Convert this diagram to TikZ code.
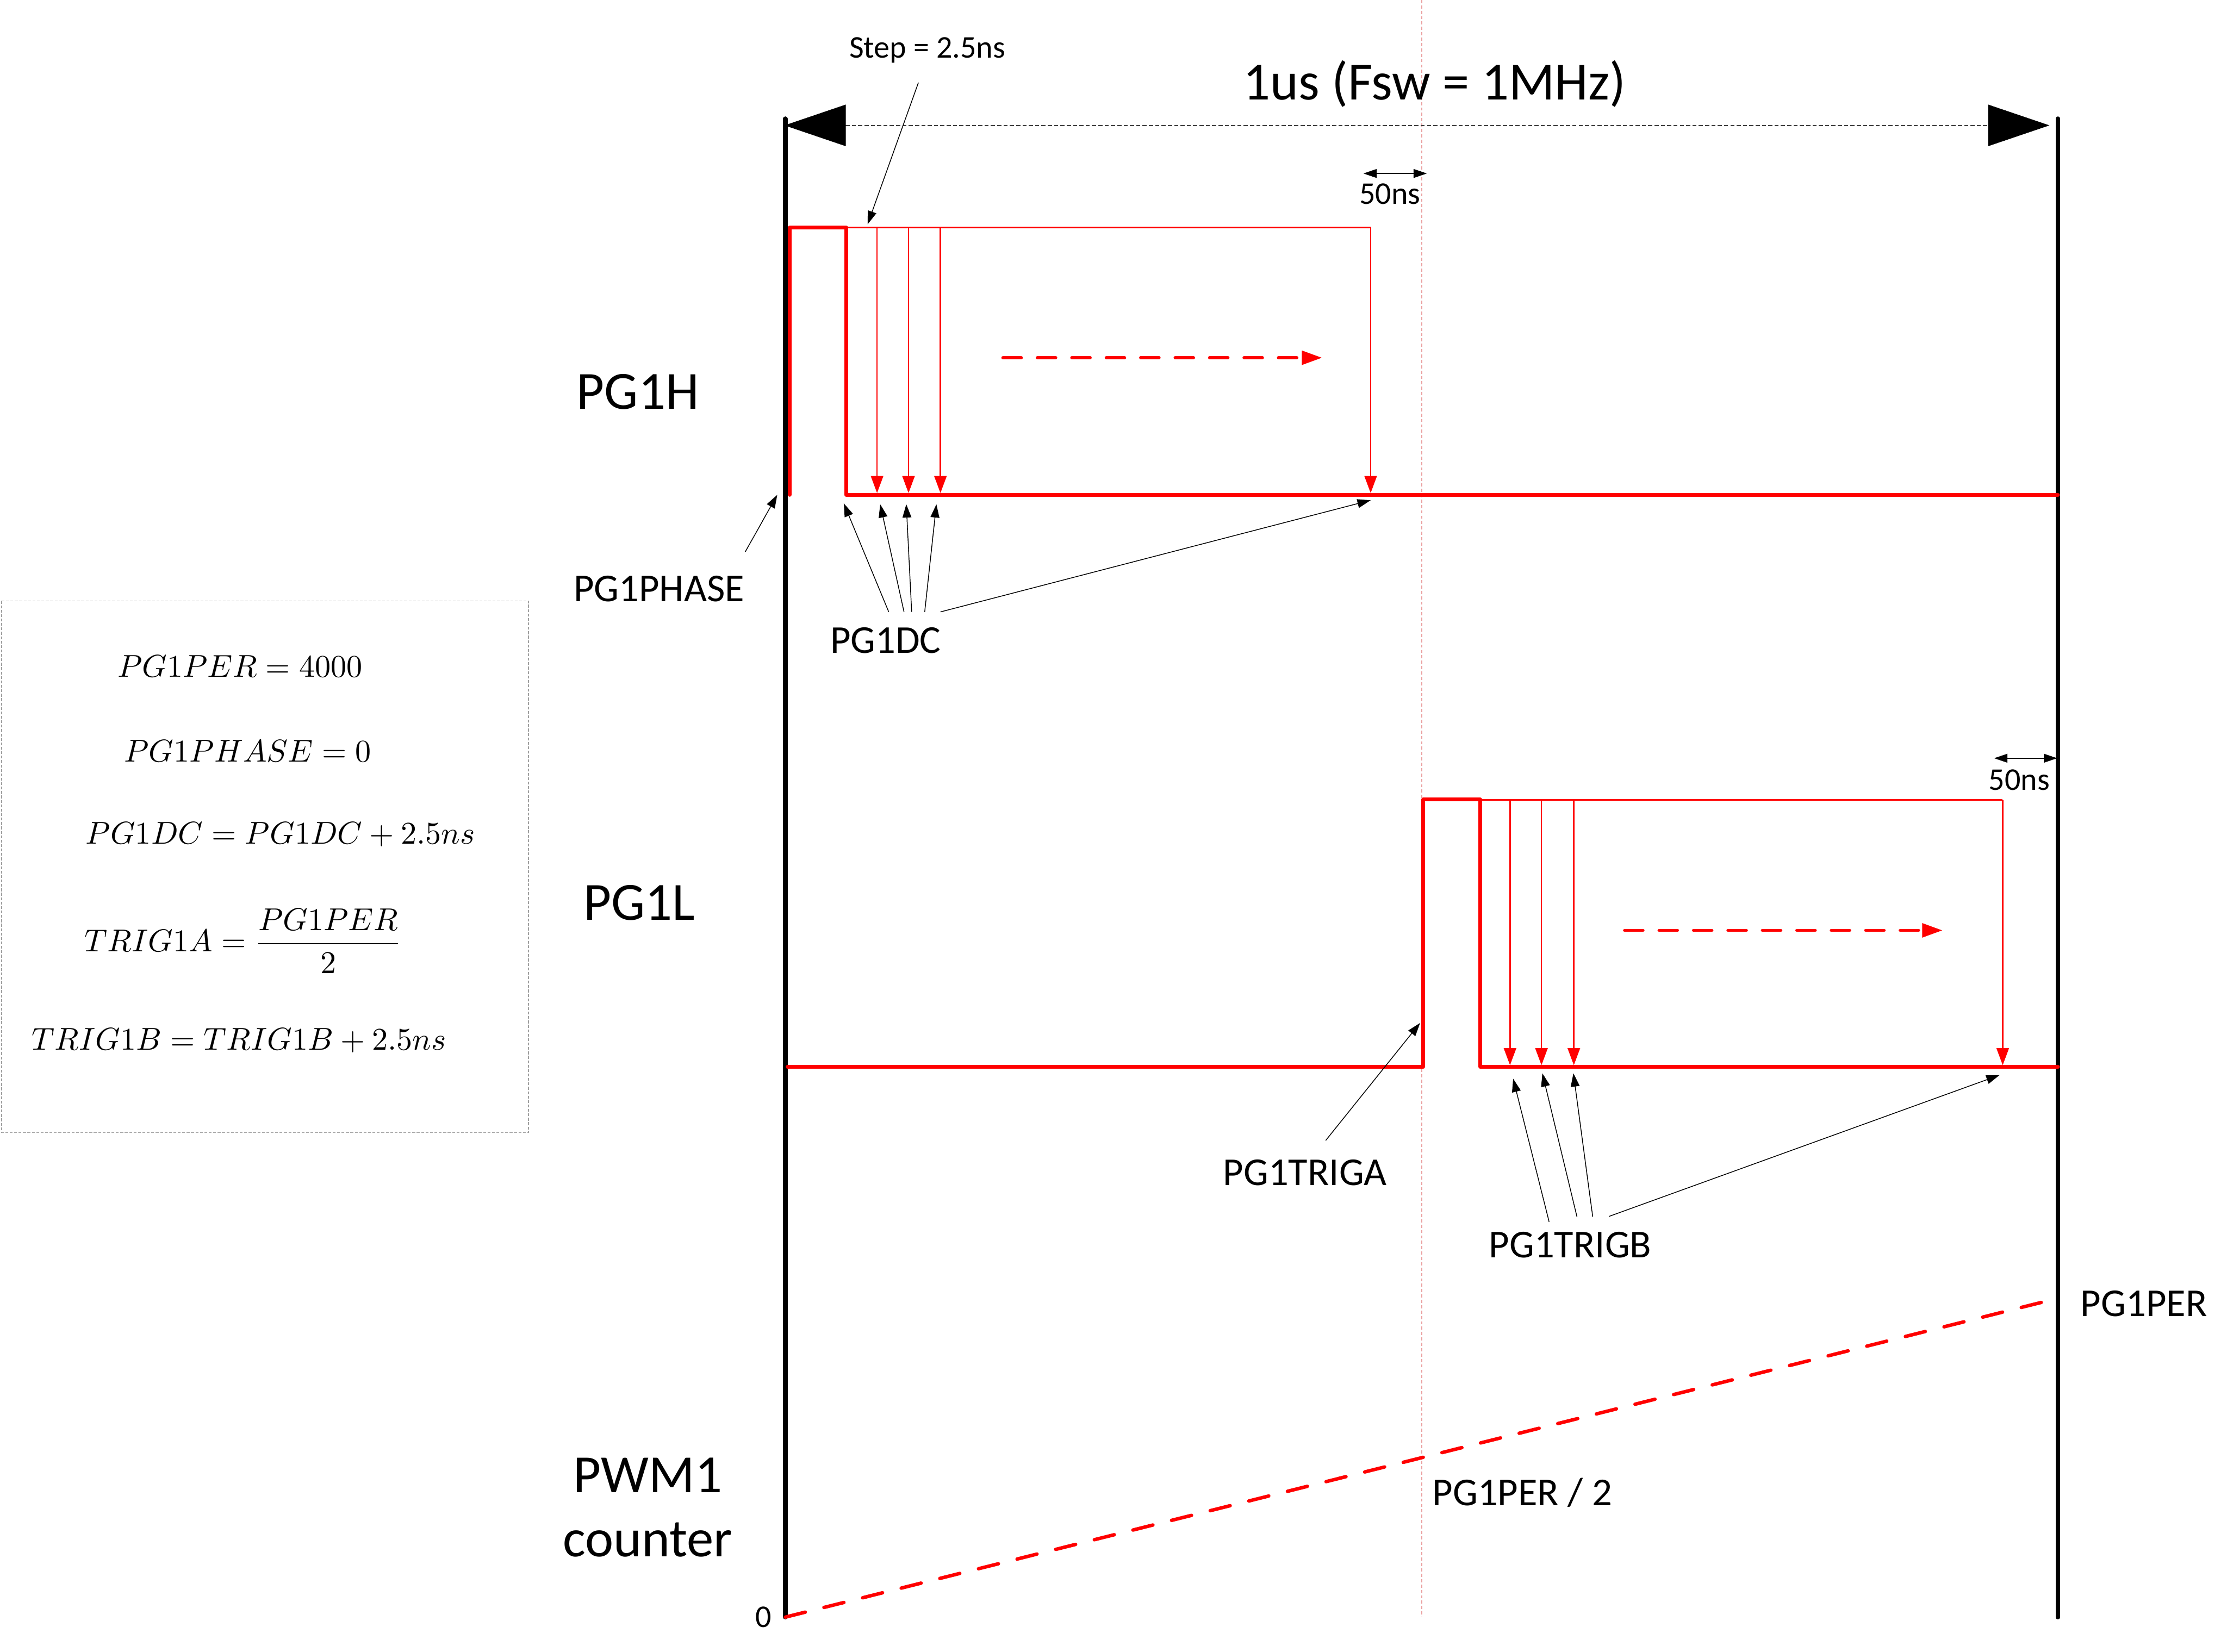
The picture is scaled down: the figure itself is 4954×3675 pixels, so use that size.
\documentclass[tikz,border=0pt]{standalone}
\usepackage[no-math]{fontspec}
\setmainfont{Carlito}
\usetikzlibrary{arrows.meta, positioning, calc}
\definecolor{pwmred}{HTML}{FF0000}
\definecolor{dimgray}{HTML}{404040}
\definecolor{boxgray}{HTML}{A0A0A0}
\definecolor{midpink}{HTML}{EBA0A0}

\begin{document}
\begin{tikzpicture}[
    x=0.05mm, y=-0.05mm,
    axis/.style={line width=1.4pt, line cap=round},
    wave/.style={pwmred, line width=1.2pt, line join=round, line cap=round},
    thinwave/.style={pwmred, line width=0.45pt},
    stepline/.style={pwmred, line width=0.45pt, -{Triangle[length=5.4pt, width=3.9pt]}},
    sweep/.style={pwmred, line width=1pt, line cap=round, dash pattern=on 5.8pt off 5.1pt, -{Triangle[length=6.4pt, width=4.3pt]}},
    ramp/.style={pwmred, line width=1.1pt, line cap=round, dash pattern=on 6.5pt off 6.1pt},
    pointer/.style={line width=0.25pt, -{Triangle[length=4.2pt, width=2.8pt]}},
    span/.style={line width=0.25pt, {Triangle[length=4.2pt, width=2.8pt]}-{Triangle[length=4.2pt, width=2.8pt]}},
    big/.style={font=\fontsize{17}{20}\selectfont, anchor=base, inner sep=3pt},
    lbl/.style={font=\fontsize{12.5}{15}\selectfont, anchor=base, inner sep=3pt},
    small/.style={font=\fontsize{10}{12}\selectfont, anchor=base, inner sep=3pt},
    eq/.style={font=\fontsize{10}{12}\selectfont, anchor=base, inner sep=3pt}
  ]
  \useasboundingbox (0,0) rectangle (4954,3675);

  % half period marker
  \draw[midpink, line width=0.4pt, dash pattern=on 1pt off 0.7pt] (3163,0) -- (3163,3598);

  % period borders
  \draw[axis] (1747,264) -- (1747,3598);
  \draw[axis] (4578,264) -- (4578,3598);

  % period
  \draw[dimgray, line width=0.3pt, dash pattern=on 1.3pt off 0.7pt,
    {Triangle[length=19.4pt, width=13.1pt, color=black]}-{Triangle[length=19.4pt, width=13.1pt, color=black]}]
    (1745,279) -- (4559,279);
  \node[big] (period) at (3191,222) {1us (Fsw = 1MHz)};

  % signal names
  \node[big] (pghlbl) at (1419,910) {PG1H};
  \node[big] (pgllbl) at (1422,2047) {PG1L};
  \node[big] (pwmlbl) at (1441,3320) {PWM1};
  \node[big] (cntlbl) at (1441,3463) {counter};

  % PG1H
  \draw[wave] (1757,1101) -- (1757,506) -- (1882,506) -- (1882,1101) -- (4578,1101);
  \draw[thinwave] (1882,506) -- (3049,506);
  \foreach \x in {1951,2021,2092,3049}
    \draw[stepline] (\x,506) -- (\x,1097);
  \draw[sweep] (2231,796) -- (2941,796);

  \node[small] (steplbl) at (2063,129) {Step = 2.5ns};
  \coordinate (step) at (1930,499);
  \draw[pointer] ($(steplbl.south)+(-20,21)$) -- (step);

  \coordinate (nsAl) at (3033,386);
  \coordinate (nsAr) at (3174,386);
  \draw[span] (nsAl) -- (nsAr);
  \node[small] (nsAlbl) at (3092,454) {50ns};

  \node[lbl] (phaselbl) at (1466,1338) {PG1PHASE};
  \coordinate (phase) at (1729,1101);
  \draw[pointer] ($(phaselbl.north)+(192,-31)$) -- (phase);

  \node[lbl] (dclbl) at (1970,1453) {PG1DC};
  \foreach \n/\x/\y in {0/1877/1120, 1/1958/1122, 2/2016/1122, 3/2083/1122, 4/3049/1113}
    \coordinate (dc\n) at (\x,\y);
  \foreach \n/\dx in {0/7, 1/41, 2/58, 3/87, 4/122}
    \draw[pointer] ($(dclbl.north)+(\dx,-12)$) -- (dc\n);

  % PG1L
  \draw[wave] (1752,2374) -- (3166,2374) -- (3166,1779) -- (3293,1779) -- (3293,2374) -- (4578,2374);
  \draw[thinwave] (3293,1780) -- (4455,1780);
  \foreach \x in {3359,3429,3501,4455}
    \draw[stepline] (\x,1780) -- (\x,2370);
  \draw[sweep] (3614,2070) -- (4321,2070);

  \coordinate (nsBl) at (4436,1687);
  \coordinate (nsBr) at (4576,1687);
  \draw[span] (nsBl) -- (nsBr);
  \node[small] (nsBlbl) at (4492,1758) {50ns};

  \node[lbl] (trigalbl) at (2903,2637) {PG1TRIGA};
  \coordinate (triga) at (3159,2276);
  \draw[pointer] ($(trigalbl.north)+(46,-20)$) -- (triga);

  \node[lbl] (trigblbl) at (3493,2798) {PG1TRIGB};
  \foreach \n/\x/\y in {0/3366/2400, 1/3431/2388, 2/3500/2388, 3/4448/2392}
    \coordinate (tb\n) at (\x,\y);
  \foreach \n/\dx/\dy in {0/-47/0, 1/15/-11, 2/50/-11, 3/86/-12}
    \draw[pointer] ($(trigblbl.north)+(\dx,\dy)$) -- (tb\n);

  % PWM1 counter
  \coordinate (cnt0) at (1747,3598);
  \coordinate (cntper) at (4580,2888);
  \draw[ramp] (cnt0) -- (cntper);
  \node[lbl, anchor=base west] (perlbl) at (4606,2929) {PG1PER};
  \node[lbl, anchor=base west] (halflbl) at (3164,3350) {PG1PER / 2};
  \node[small, anchor=base east] (zerolbl) at (1739,3620) {0};

  % register settings
  \draw[boxgray, line width=0.3pt, dash pattern=on 0.9pt off 0.5pt] (4,1337) rectangle (1176,2520);
  \node[eq] (eqper) at (534,1507) {$PG1PER = 4000$};
  \node[eq] (eqphase) at (551,1695) {$PG1PHASE = 0$};
  \node[eq] (eqdc) at (624,1878) {$PG1DC = PG1DC + 2.5ns$};
  \node[eq] (eqtriga) at (541,2117) {$TRIG1A = \displaystyle\frac{PG1PER}{2}$};
  \node[eq] (eqtrigb) at (532,2336) {$TRIG1B = TRIG1B + 2.5ns$};
\end{tikzpicture}
\end{document}
